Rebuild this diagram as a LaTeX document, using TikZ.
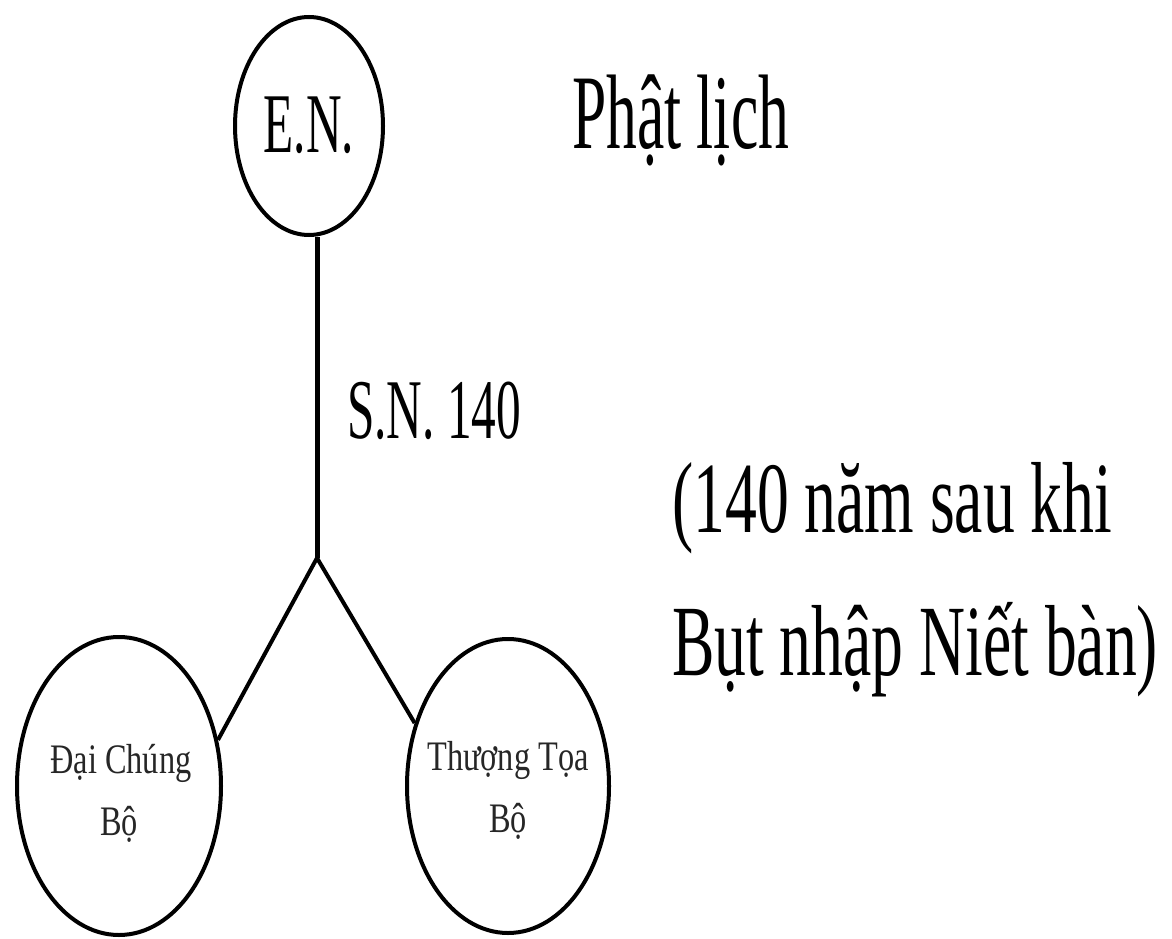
\documentclass[tikz,border=0pt]{standalone}
\usepackage{fontspec}
\setmainfont{Liberation Serif}
\newfontfamily\bigserif[FakeStretch=0.58]{Liberation Serif}
\newfontfamily\midserif[FakeStretch=0.63]{Liberation Serif}
\newfontfamily\smallserif[FakeStretch=0.77]{Liberation Serif}
\usetikzlibrary{shapes.geometric}
\tikzset{
  ell/.style={draw=black, shape=ellipse, line width=4pt, inner sep=0pt},
  conn/.style={draw=black, line width=4pt},
  stem/.style={draw=black, line width=5pt},
  bigtxt/.style={inner sep=0pt, font=\bigserif\fontsize{106}{120}\selectfont},
  medtxt/.style={inner sep=0pt, font=\bigserif\fontsize{85}{100}\selectfont},
  notetxt/.style={inner sep=0pt, font=\midserif\fontsize{101}{143}\selectfont},
  smalltxt/.style={inner sep=0pt, text=black!85, font=\smallserif\fontsize{42}{62}\selectfont}
}
\begin{document}
\begin{tikzpicture}[x=1pt,y=-1pt]
\useasboundingbox (0,0) rectangle (1172,939);
\fill[white] (0,0) rectangle (1172,939);

% ellipses
\node[ell, minimum width=148pt, minimum height=218pt] (EN) at (309,126) {};
\node[ell, minimum width=204pt, minimum height=298pt] (DCB) at (119,786) {};
\node[ell, minimum width=202pt, minimum height=294pt] (TTB) at (508,786) {};

% junction
\coordinate (J) at (317,558);

% connectors
\draw[stem] (J |- EN.south) -- (J);
\draw[conn] (J) -- (DCB.25);
\draw[conn] (J) -- (TTB.146);

% texts in ellipses
\node[medtxt, anchor=base] (ENt) at (309,153) {E.N.};
\node[smalltxt, anchor=base] (DCB1) at (121,773) {Đại Chúng};
\node[smalltxt, anchor=base] (DCB2) at (119,835) {Bộ};
\node[smalltxt, anchor=base] (TTB1) at (508,770) {Thượng Tọa};
\node[smalltxt, anchor=base] (TTB2) at (508,832) {Bộ};

% free texts
\node[bigtxt, anchor=base west] (PL) at (572,148) {Phật lịch};
\node[medtxt, anchor=base west] (SN) at (347,438) {S.N. 140};
\node[notetxt, anchor=base west] (N1) at (672,532) {(140 năm sau khi};
\node[notetxt, anchor=base west] (N2) at (672,675) {Bụt nhập Niết bàn)};
\end{tikzpicture}
\end{document}
